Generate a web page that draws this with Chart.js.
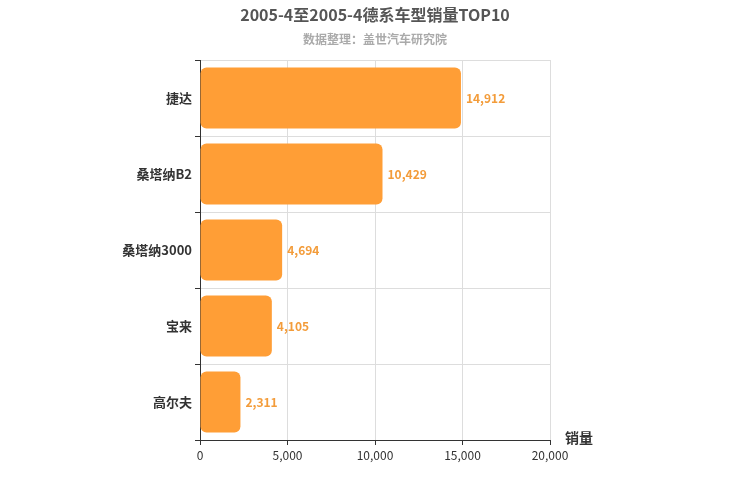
<!DOCTYPE html>
<html>
<head>
<meta charset="utf-8">
<script src="https://cdn.jsdelivr.net/npm/chart.js@4"></script>
<style>
  body { margin: 0; background: #fff; }
  #wrap { width: 750px; height: 500px; }
</style>
</head>
<body>
<div id="wrap"><canvas id="myChart" width="750" height="500"></canvas></div>
<script>
const categories = ["捷达", "桑塔纳B2", "桑塔纳3000", "宝来", "高尔夫"];
const sales = [14912, 10429, 4694, 4105, 2311];
const xTicks = [0, 5000, 10000, 15000, 20000];

const FONT = "'Noto Sans CJK SC', 'Liberation Sans', sans-serif";

// titles, axis name and value labels
const extras = {
  id: "extras",
  afterDraw(chart) {
    const ctx = chart.ctx;
    const area = chart.chartArea;
    ctx.save();
    ctx.textAlign = "center";
    ctx.textBaseline = "middle";
    ctx.fillStyle = "#555";
    ctx.font = "bold 16px " + FONT;
    ctx.fillText("2005-4至2005-4德系车型销量TOP10", 375, 15);
    ctx.fillStyle = "#aaa";
    ctx.font = "bold 12px " + FONT;
    ctx.fillText("数据整理：盖世汽车研究院", 375, 39);
    ctx.fillStyle = "#333";
    ctx.font = "bold 14px " + FONT;
    ctx.textAlign = "left";
    ctx.fillText("销量", area.right + 15, area.bottom - 2);

    const meta = chart.getDatasetMeta(0);
    ctx.fillStyle = "#f39c3a";
    ctx.font = "bold 12px " + FONT;
    meta.data.forEach((bar, i) => {
      ctx.fillText(sales[i].toLocaleString("en-US"), bar.x + 5, bar.y);
    });
    ctx.restore();
  }
};

new Chart(document.getElementById("myChart"), {
  type: "bar",
  data: {
    labels: categories,
    datasets: [{
      data: sales,
      backgroundColor: "#ff9e36",
      borderRadius: 6,
      borderSkipped: false,
      categoryPercentage: 0.8,
      barPercentage: 1
    }]
  },
  options: {
    indexAxis: "y",
    responsive: false,
    animation: false,
    layout: { padding: { top: 60, right: 200, bottom: 30, left: 0 } },
    plugins: { legend: { display: false }, tooltip: { enabled: false } },
    scales: {
      x: {
        min: 0,
        max: 20000,
        afterBuildTicks: (s) => { s.ticks = xTicks.map(v => ({ value: v })); },
        grid: { color: "#ddd", tickLength: 5, tickColor: "#333" },
        border: { color: "#333" },
        ticks: {
          color: "#333",
          font: { size: 12, family: FONT },
          callback: (v) => v.toLocaleString("en-US")
        },
        afterFit: (s) => { s.height = 30; }
      },
      y: {
        grid: { color: "#ddd", offset: true, tickLength: 5, tickColor: "#333" },
        border: { color: "#333" },
        ticks: { color: "#333", font: { size: 13, weight: "bold", family: FONT } },
        afterFit: (s) => { s.width = 200; }
      }
    }
  },
  plugins: [extras]
});
</script>
</body>
</html>
